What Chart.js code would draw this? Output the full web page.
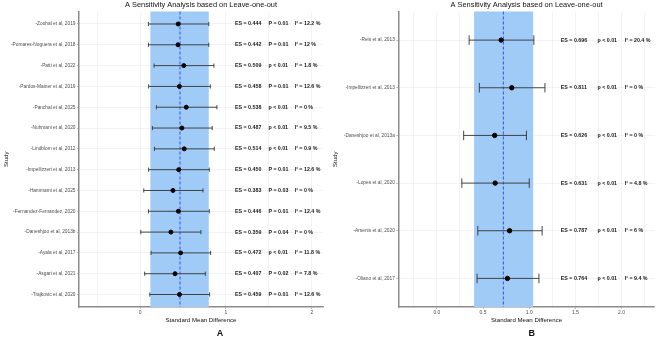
<!DOCTYPE html>
<html>
<head>
<meta charset="utf-8">
<script src="https://cdn.jsdelivr.net/npm/chart.js@4/dist/chart.umd.min.js"></script>
<style>
  html, body { margin: 0; padding: 0; background: #fff; }
  #wrap { position: relative; width: 658px; height: 339px; }
  .panel { position: absolute; top: 0; width: 329px; height: 339px; }
</style>
</head>
<body>
<div id="wrap">
  <div class="panel" style="left:0"><canvas id="chartA" width="329" height="339"></canvas></div>
  <div class="panel" style="left:329px"><canvas id="chartB" width="329" height="339"></canvas></div>
</div>
<script>
// panel A - leave-one-out
const studiesA = [
  '-Zouhal et al, 2019', '-Pomares-Noguera et al, 2018', '-Patti et al, 2022',
  '-Pardos-Mainer et al, 2019', '-Panchal et al, 2025', '-Nuhmani et al, 2020',
  '-Lindblom et al, 2012', '-Impellizzeri et al, 2013', '-Hammami et al, 2025',
  '-Fernandez-Fernandez, 2020', '-Daneshjoo et al, 2013b', '-Ayala et al, 2017',
  '-Asgari et al, 2021', '-Trajkovic et al, 2020'
];
const esA = [0.444, 0.442, 0.509, 0.458, 0.538, 0.487, 0.514, 0.450, 0.383, 0.446, 0.359, 0.472, 0.407, 0.459];
const lowerA = [0.097, 0.097, 0.163, 0.100, 0.190, 0.143, 0.167, 0.100, 0.043, 0.097, 0.008, 0.128, 0.054, 0.113];
const upperA = [0.800, 0.800, 0.860, 0.818, 0.895, 0.840, 0.864, 0.806, 0.733, 0.806, 0.709, 0.822, 0.760, 0.810];
const pA = ['P = 0.01', 'P = 0.01', 'p < 0.01', 'P = 0.01', 'p < 0.01', 'p < 0.01', 'p < 0.01',
            'P = 0.01', 'P = 0.03', 'P = 0.01', 'P = 0.04', 'p < 0.01', 'P = 0.02', 'P = 0.01'];
const i2A = ['12.2', '12', '1.8', '12.6', '0', '9.5', '0.9', '12.6', '0', '12.4', '0', '11.8', '7.8', '12.6'];
const pooledA = 0.465;
const bandA = [0.12, 0.80];

// panel B
const studiesB = [
  '-Reis et al, 2013', '-Impellizzeri et al, 2013', '-Daneshjoo et al, 2013a',
  '-Lopes et al, 2020', '-Arsenis et al, 2020', '-Oliano et al, 2017'
];
const esB = [0.696, 0.811, 0.626, 0.631, 0.787, 0.764];
const lowerB = [0.349, 0.460, 0.290, 0.270, 0.443, 0.435];
const upperB = [1.050, 1.170, 0.970, 1.000, 1.140, 1.105];
const pB = ['p < 0.01', 'p < 0.01', 'p < 0.01', 'p < 0.01', 'p < 0.01', 'p < 0.01'];
const i2B = ['20.4', '0', '0', '4.8', '6', '9.4'];
const pooledB = 0.72;
const bandB = [0.403, 1.043];

const FONT = '"Liberation Sans", Arial, Helvetica, sans-serif';

function forestPlugin(cfg) {
  return {
    id: 'forest',
    beforeDatasetsDraw(chart) {
      const { ctx, chartArea: a, scales: { x, y } } = chart;
      ctx.save();
      // pooled confidence band
      const b0 = x.getPixelForValue(cfg.band[0]);
      const b1 = x.getPixelForValue(cfg.band[1]);
      ctx.fillStyle = '#9fcbf6';
      ctx.fillRect(b0, a.top, b1 - b0, a.bottom - a.top);
      // pooled estimate
      const px = x.getPixelForValue(cfg.pooled);
      ctx.strokeStyle = '#2f52f5';
      ctx.lineWidth = 1;
      ctx.setLineDash([3, 2]);
      ctx.beginPath();
      ctx.moveTo(px, a.top);
      ctx.lineTo(px, a.bottom);
      ctx.stroke();
      ctx.setLineDash([]);
      // error bars
      ctx.strokeStyle = '#333';
      ctx.lineWidth = 0.9;
      cfg.lower.forEach((lo, i) => {
        const x0 = x.getPixelForValue(lo);
        const x1 = x.getPixelForValue(cfg.upper[i]);
        const yc = y.getPixelForValue(i);
        const yt = y.getPixelForValue(i - 0.1);
        const yb = y.getPixelForValue(i + 0.1);
        ctx.beginPath();
        ctx.moveTo(x0, yc); ctx.lineTo(x1, yc);
        ctx.moveTo(x0, yt); ctx.lineTo(x0, yb);
        ctx.moveTo(x1, yt); ctx.lineTo(x1, yb);
        ctx.stroke();
      });
      ctx.restore();
    },
    afterDatasetsDraw(chart) {
      const { ctx, scales: { x, y } } = chart;
      ctx.save();
      ctx.fillStyle = '#222';
      ctx.font = 'bold 5.3px ' + FONT;
      ctx.textAlign = 'left';
      ctx.textBaseline = 'middle';
      const cx = cfg.textCols.map(v => x.getPixelForValue(v));
      cfg.es.forEach((v, i) => {
        const yy = y.getPixelForValue(i);
        ctx.fillText('ES = ' + v.toFixed(3), cx[0], yy);
        ctx.fillText(cfg.p[i], cx[1], yy);
        ctx.fillText('I\u00B2 = ' + cfg.i2[i] + ' %', cx[2], yy);
      });
      ctx.restore();
    },
    afterDraw(chart) {
      const { ctx, chartArea: a } = chart;
      ctx.save();
      ctx.fillStyle = '#111';
      ctx.textAlign = 'center';
      ctx.textBaseline = 'middle';
      ctx.font = '7.4px ' + FONT;
      ctx.fillText('A Sensitivity Analysis based on Leave-one-out', (a.left + a.right) / 2, 4.8);
      ctx.font = 'bold 9px ' + FONT;
      ctx.fillText(cfg.letter, cfg.letterX, 334);
      ctx.restore();
    }
  };
}

function makeForest(id, cfg) {
  const n = cfg.studies.length;
  return new Chart(document.getElementById(id), {
    type: 'scatter',
    data: {
      datasets: [{
        data: cfg.es.map((v, i) => ({ x: v, y: i })),
        backgroundColor: '#000',
        borderColor: '#000',
        pointRadius: cfg.pointRadius,
        pointHoverRadius: cfg.pointRadius
      }]
    },
    options: {
      responsive: false,
      animation: false,
      events: [],
      layout: { padding: { top: 11.5, right: cfg.padRight, left: 0, bottom: 0 } },
      plugins: { legend: { display: false }, tooltip: { enabled: false }, title: { display: false } },
      scales: {
        x: {
          type: 'linear',
          min: cfg.xMin,
          max: cfg.xMax,
          afterFit: s => { s.height = 32; },
          ticks: {
            stepSize: cfg.xStep,
            includeBounds: false,
            maxTicksLimit: 100,
            autoSkip: false,
            maxRotation: 0,
            padding: 1,
            color: '#4d4d4d',
            font: { family: FONT, size: 5 },
            callback: v => cfg.xLabel(v)
          },
          grid: {
            color: '#ebebeb',
            lineWidth: 0.6,
            tickLength: 2,
            tickColor: c => (c.tick && cfg.xLabel(c.tick.value) !== '') ? '#8c8c8c' : 'rgba(0,0,0,0)'
          },
          border: { color: '#8c8c8c', width: 1.5 },
          title: {
            display: true,
            text: 'Standard Mean Difference',
            color: '#111',
            font: { family: FONT, size: 6.1 },
            padding: { top: 0, bottom: 15 }
          }
        },
        y: {
          type: 'linear',
          reverse: true,
          min: -0.6,
          max: n - 0.4,
          afterFit: s => { s.width = cfg.yWidth; },
          ticks: {
            stepSize: 1,
            includeBounds: false,
            maxTicksLimit: 100,
            autoSkip: false,
            padding: 1.5,
            color: '#4d4d4d',
            font: { family: FONT, size: 4.8 },
            callback: v => cfg.studies[v] || ''
          },
          grid: { color: '#ebebeb', lineWidth: 0.6, tickLength: 2, tickColor: '#8c8c8c' },
          border: { color: '#8c8c8c', width: 1.5 },
          title: {
            display: true,
            text: 'Study',
            color: '#111',
            font: { family: FONT, size: 6 },
            padding: { top: 3, bottom: 0 }
          }
        }
      }
    },
    plugins: [forestPlugin(cfg)]
  });
}

makeForest('chartA', {
  studies: studiesA, es: esA, lower: lowerA, upper: upperA, p: pA, i2: i2A,
  pooled: pooledA, band: bandA,
  xMin: -0.711, xMax: 2.13, xStep: 0.5,
  xLabel: v => (Math.abs(v % 1) < 1e-9 ? String(v) : ''),
  textCols: [1.105, 1.495, 1.80],
  yWidth: 79, padRight: 6, pointRadius: 2,
  letter: 'A', letterX: 220
});

makeForest('chartB', {
  studies: studiesB, es: esB, lower: lowerB, upper: upperB, p: pB, i2: i2B,
  pooled: pooledB, band: bandB,
  xMin: -0.418, xMax: 2.36, xStep: 0.25,
  xLabel: v => (Math.abs((v * 2) % 1) < 1e-9 ? v.toFixed(1) : ''),
  textCols: [1.342, 1.739, 2.034],
  yWidth: 69.3, padRight: 2.5, pointRadius: 2.2,
  letter: 'B', letterX: 202.7
});
</script>
</body>
</html>
